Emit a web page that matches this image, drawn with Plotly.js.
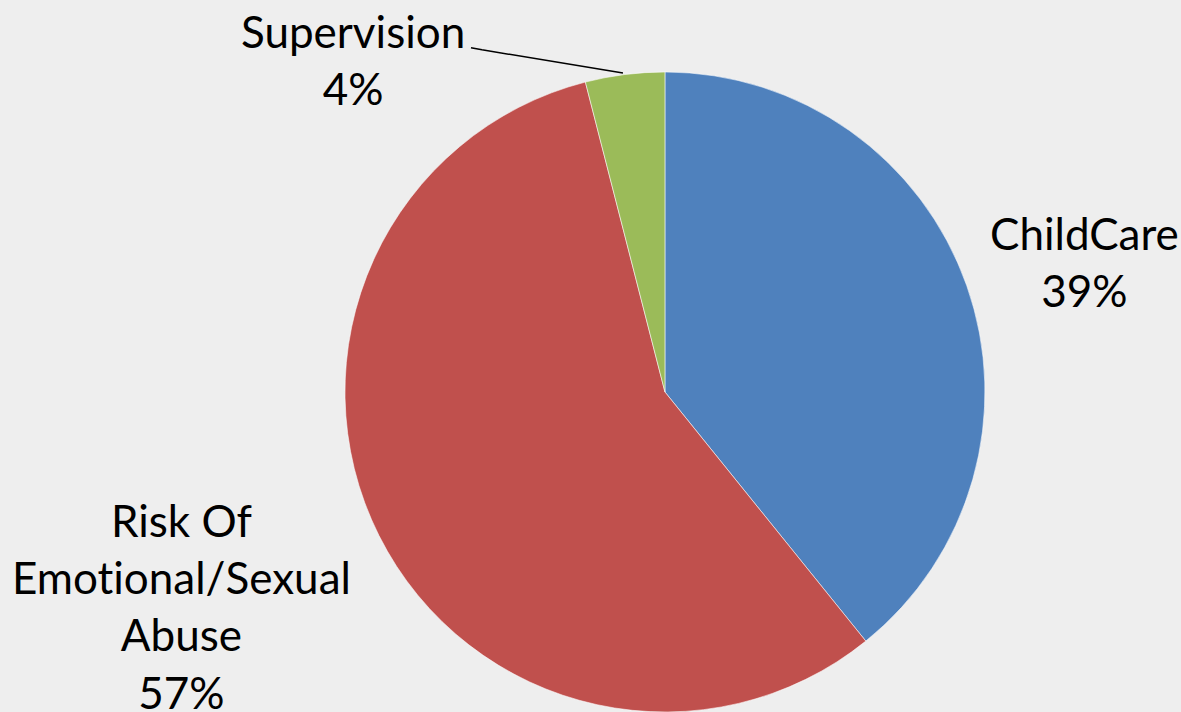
<!DOCTYPE html>
<html>
<head>
<meta charset="utf-8">
<script src="https://cdn.plot.ly/plotly-3.0.1.min.js"></script>
<style>
html,body{margin:0;padding:0;background:#EEEEEE;}
#chart{width:1181px;height:712px;}
text{font-variant-ligatures:none;font-feature-settings:"liga" 0, "clig" 0;}
</style>
</head>
<body>
<div id="chart"></div>
<script>
// Data
const categories = ["ChildCare", "Risk Of Emotional/Sexual Abuse", "Supervision"];
const categoryLines = ["ChildCare", "Risk Of<br>Emotional/Sexual<br>Abuse", "Supervision"];
const values = [39.2, 56.8, 4.0];
const percentLabels = ["39%", "57%", "4%"];
const colors = ["#4F81BD", "#C0504D", "#9BBB59"];

// Label placement (paper coords)
const labelPos = [
  {x: 0.9187, y: 0.6334},
  {x: 0.1541, y: 0.1489},
  {x: 0.2989, y: 0.9171}
];

const trace = {
  type: "pie",
  labels: categories,
  values: values,
  sort: false,
  direction: "clockwise",
  rotation: 0,
  textinfo: "none",
  hoverinfo: "label+percent",
  marker: {colors: colors, line: {color: "rgba(255,255,255,0.55)", width: 1}},
  domain: {x: [0.2921, 0.8340], y: [0, 0.8989]},
  showlegend: false
};

const font = {family: "Lato, 'Open Sans', sans-serif", size: 44, color: "#000000"};

const annotations = categories.map((c, i) => ({
  xref: "paper", yref: "paper",
  x: labelPos[i].x, y: labelPos[i].y,
  xanchor: "center", yanchor: "middle",
  text: categoryLines[i] + "<br>" + percentLabels[i],
  showarrow: false,
  align: "center",
  font: font
}));

const layout = {
  width: 1181, height: 712,
  margin: {l: 0, r: 0, t: 0, b: 0},
  paper_bgcolor: "#EEEEEE",
  plot_bgcolor: "#EEEEEE",
  annotations: annotations,
  shapes: [{
    type: "path", xref: "paper", yref: "paper",
    path: "M 0.3988 0.933 L 0.4081 0.930 L 0.5275 0.8975",
    line: {color: "#000000", width: 1.5}
  }]
};

Plotly.newPlot("chart", [trace], layout, {displayModeBar: false, staticPlot: true});
</script>
</body>
</html>
